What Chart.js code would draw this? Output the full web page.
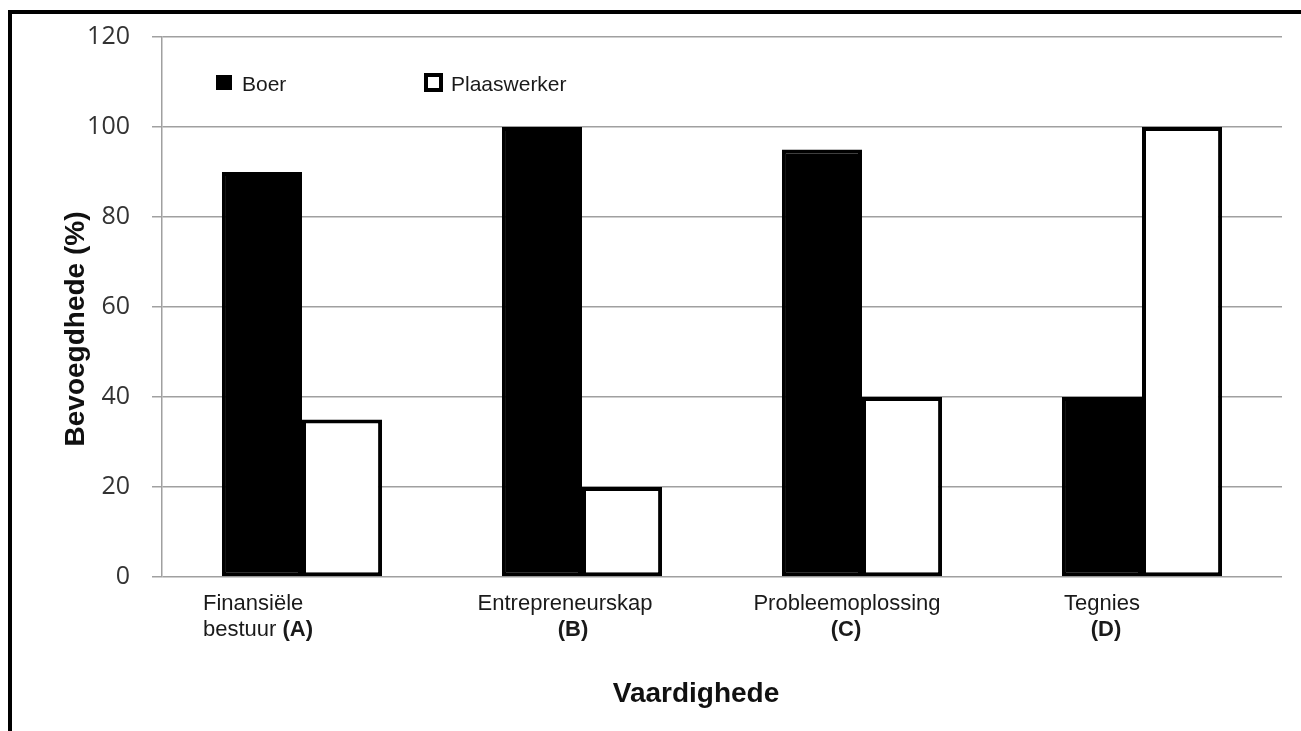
<!DOCTYPE html>
<html>
<head>
<meta charset="utf-8">
<script src="https://cdn.jsdelivr.net/npm/chart.js@4.4.0/dist/chart.umd.min.js"></script>
<style>
  body { margin: 0; background: #fff; }
  #wrap { position: relative; width: 1301px; height: 731px; }
  #frame { position: absolute; left: 8px; top: 10px; right: 0; bottom: 0;
           border-top: 4px solid #000; border-left: 4px solid #000; pointer-events: none; }
</style>
</head>
<body>
<div id="wrap">
  <canvas id="barChart" width="1301" height="731"></canvas>
  <div id="frame"></div>
</div>
<script>
// data
const categoryNames = ['Finansiële bestuur', 'Entrepreneurskap', 'Probleemoplossing', 'Tegnies'];
const categoryCodes = ['(A)', '(B)', '(C)', '(D)'];
const boerValues = [90, 100, 95, 40];
const plaaswerkerValues = [35, 20, 40, 100];
const yTicks = [0, 20, 40, 60, 80, 100, 120];

const labelFont = 'Liberation Sans, Arial, sans-serif';

// x labels and axis titles are placed by hand in the original, so draw them here
const xLabelsPlugin = {
  id: 'xLabels',
  afterDraw(chart) {
    const ctx = chart.ctx;
    const x = chart.scales.x;
    const area = chart.chartArea;
    // shift from category centre for line 1 / line 2
    const shift = [[-99, -99], [-17, -9], [-15, -16], [-40, -36]];
    ctx.save();
    ctx.fillStyle = '#1a1a1a';
    ctx.textBaseline = 'alphabetic';
    categoryNames.forEach((name, i) => {
      const cx = x.getPixelForValue(i);
      const words = name.split(' ');
      const line1 = words[0];
      const rest = words.slice(1).join(' ');
      const y1 = area.bottom + 33;
      const y2 = area.bottom + 59;
      ctx.font = '22px ' + labelFont;
      if (i === 0) {
        ctx.textAlign = 'left';
        const lx = cx + shift[i][0];
        ctx.fillText(line1, lx, y1);
        const part = rest + ' ';
        ctx.fillText(part, lx, y2);
        const w = ctx.measureText(part).width;
        ctx.font = 'bold 22px ' + labelFont;
        ctx.fillText(categoryCodes[i], lx + w, y2);
      } else {
        ctx.textAlign = 'center';
        ctx.fillText(name, cx + shift[i][0], y1);
        ctx.font = 'bold 22px ' + labelFont;
        ctx.fillText(categoryCodes[i], cx + shift[i][1], y2);
      }
    });
    // axis titles
    ctx.font = 'bold 28px ' + labelFont;
    ctx.textAlign = 'center';
    ctx.fillStyle = '#111';
    ctx.fillText('Vaardighede', (area.left + area.right) / 2 - 26, area.bottom + 125);

    ctx.save();
    ctx.translate(84, (area.top + area.bottom) / 2 + 22);
    ctx.rotate(-Math.PI / 2);
    ctx.fillText('Bevoegdhede (%)', 0, 0);
    ctx.restore();

    // legend inside the plot
    const ds = chart.data.datasets;
    ctx.font = '21px ' + labelFont;
    ctx.textAlign = 'left';
    ctx.fillStyle = ds[0].backgroundColor;
    ctx.fillRect(area.left + 54, area.top + 38, 16, 15);
    ctx.fillStyle = '#1a1a1a';
    ctx.fillText(ds[0].label, area.left + 80, area.top + 54);
    ctx.lineWidth = 4;
    ctx.strokeStyle = ds[1].borderColor;
    ctx.strokeRect(area.left + 264, area.top + 38, 15, 15);
    ctx.fillText(ds[1].label, area.left + 289, area.top + 54);
    ctx.restore();
  }
};

const ctx = document.getElementById('barChart').getContext('2d');
new Chart(ctx, {
  type: 'bar',
  data: {
    labels: categoryNames.map((n, i) => n + ' ' + categoryCodes[i]),
    datasets: [{
      label: 'Boer',
      data: boerValues,
      backgroundColor: '#000',
      borderColor: '#000',
      borderWidth: 4,
      borderSkipped: false
    }, {
      label: 'Plaaswerker',
      data: plaaswerkerValues,
      backgroundColor: '#fff',
      borderColor: '#000',
      borderWidth: 4,
      borderSkipped: false
    }]
  },
  options: {
    responsive: false,
    animation: false,
    layout: {
      padding: { top: 37, right: 19, bottom: 154, left: 0 }
    },
    plugins: {
      legend: { display: false },
      tooltip: { enabled: false }
    },
    datasets: {
      bar: { categoryPercentage: 0.572, barPercentage: 1 }
    },
    scales: {
      x: {
        display: false
      },
      y: {
        min: 0,
        max: 120,
        afterFit(scale) { scale.width = 162; },
        afterBuildTicks(scale) { scale.ticks = yTicks.map(v => ({ value: v })); },
        grid: { color: '#a0a0a0', lineWidth: 1.5, tickLength: 10 },
        border: { color: '#a0a0a0', width: 1.5 },
        ticks: {
          padding: 22,
          color: '#333',
          font: { family: 'Open Sans', size: 25 }
        }
      }
    }
  },
  plugins: [xLabelsPlugin]
});
</script>
</body>
</html>
